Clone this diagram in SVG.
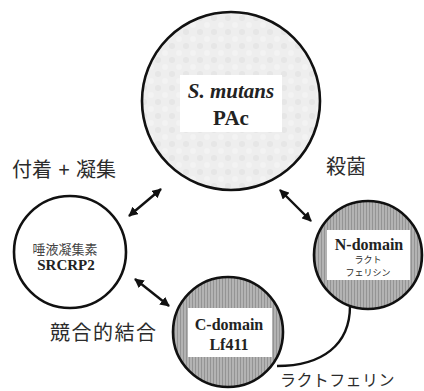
<svg xmlns="http://www.w3.org/2000/svg" width="424" height="391" viewBox="0 0 424 391">
<defs>
<pattern id="stripes" width="3" height="6" patternUnits="userSpaceOnUse">
<rect width="3" height="6" fill="#b3b3b3"/>
<rect width="1" height="6" fill="#949494"/>
</pattern>
<pattern id="mottle" width="14" height="14" patternUnits="userSpaceOnUse">
<rect width="14" height="14" fill="#eeeeee"/>
<circle cx="4" cy="4" r="3" fill="#e6e6e6"/>
<circle cx="11" cy="11" r="3" fill="#f3f3f3"/>
</pattern>
<marker id="ah" viewBox="0 0 10 10" refX="9" refY="5" markerWidth="4" markerHeight="4" orient="auto-start-reverse">
<path d="M0,0 L10,5 L0,10 z" fill="#111"/>
</marker>
</defs>
<style>
.circ{stroke:#111;stroke-width:2.6}
.box{fill:#fff}
.jp{font-family:"Noto Sans CJK JP","Noto Sans",sans-serif;fill:#2b2b2b}
.en{font-family:"Liberation Serif",serif;font-weight:bold;fill:#222;text-anchor:middle}
.arr{stroke:#111;stroke-width:2.4;fill:none;marker-start:url(#ah);marker-end:url(#ah)}
</style>
<rect width="424" height="391" fill="#fff"/>
<g id="connectors">
<line class="arr" x1="161" y1="189" x2="129" y2="216"/>
<line class="arr" x1="280" y1="190" x2="311" y2="221"/>
<line class="arr" x1="135" y1="279" x2="169" y2="306"/>
<path d="M350,306 C350,345 322,366 277,366" stroke="#111" stroke-width="2.4" fill="none"/>
</g>
<g id="pac">
<circle class="circ" cx="231" cy="101" r="89" fill="url(#mottle)"/>
<rect class="box" x="180" y="75" width="102" height="57"/>
<text class="en" x="231" y="98" font-size="21" font-style="italic">S. mutans</text>
<text class="en" x="231" y="125" font-size="21">PAc</text>
</g>
<g id="srcrp2">
<circle class="circ" cx="70" cy="252" r="56" fill="#fff"/>
<text class="jp" x="65" y="254" font-size="13" text-anchor="middle" style="fill:#444">唾液凝集素</text>
<text class="en" x="66" y="270" font-size="15">SRCRP2</text>
</g>
<g id="ndomain">
<circle class="circ" cx="368" cy="255" r="54" fill="url(#stripes)"/>
<rect class="box" x="327" y="230" width="83" height="50"/>
<text class="en" x="369" y="250" font-size="16">N-domain</text>
<text class="jp" x="368" y="263" font-size="9" text-anchor="middle">ラクト</text>
<text class="jp" x="368" y="276" font-size="9" text-anchor="middle">フェリシン</text>
</g>
<g id="cdomain">
<circle class="circ" cx="228" cy="332" r="55" fill="url(#stripes)"/>
<rect class="box" x="188" y="308" width="84" height="49"/>
<text class="en" x="229" y="330" font-size="16">C-domain</text>
<text class="en" x="229" y="350" font-size="16">Lf411</text>
</g>
<g id="labels">
<text class="jp" x="12" y="177" font-size="20" word-spacing="2">付着 + 凝集</text>
<text class="jp" x="326" y="174" font-size="20">殺菌</text>
<text class="jp" x="50" y="340" font-size="20" letter-spacing="1.5">競合的結合</text>
<text class="jp" x="280" y="386" font-size="16" letter-spacing="0.4">ラクトフェリン</text>
</g>
</svg>
